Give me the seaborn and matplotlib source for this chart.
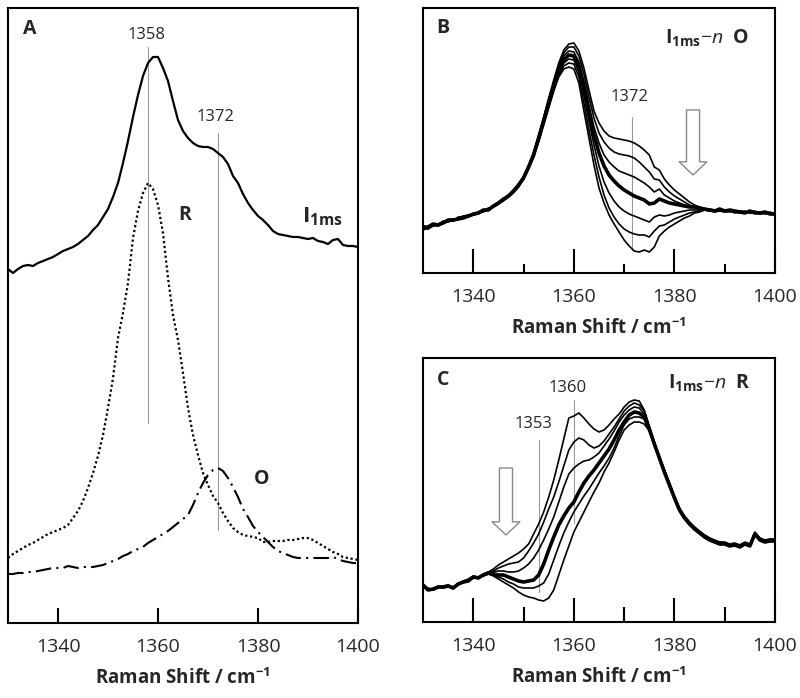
import matplotlib
matplotlib.use("Agg")
import matplotlib.pyplot as plt
import seaborn as sns
import pandas as pd

sns.set_style("white")
plt.rcParams["font.family"] = ["Open Sans", "DejaVu Sans"]
plt.rcParams["mathtext.fontset"] = "custom"
plt.rcParams["mathtext.rm"] = "Open Sans"
plt.rcParams["mathtext.bf"] = "Open Sans:bold"
plt.rcParams["mathtext.it"] = "Open Sans:italic"

# ---------------- data ----------------
shift = list(range(1330, 1401))
xticks_major = [1340, 1360, 1380, 1400]
xticks_minor = [1350, 1370, 1390]
xlabel = "Raman Shift / cm$^{\\mathbf{-1}}$"

# Panel A
a_i1ms = [354, 350, 354, 357, 358, 357, 360, 362, 364, 366, 369, 372, 374, 376, 379, 383, 387, 393, 398, 406,
          414, 426, 440, 460, 482, 506, 528, 547, 560, 566, 566, 555, 542, 522, 503, 492, 485, 480, 477, 476,
          476, 474, 470, 466, 459, 447, 440, 429, 420, 413, 407, 403, 398, 392, 389, 388, 387, 386, 386, 385,
          384, 385, 382, 381, 379, 383, 384, 378, 377, 377, 376]
a_r = [65, 69, 72, 75, 78, 80, 83, 86, 89, 91, 93, 95, 98, 105, 112, 122, 135, 150, 167, 188,
       215, 245, 285, 310, 340, 385, 412, 430, 440, 434, 418, 390, 345, 308, 283, 250, 215, 188, 168, 150,
       138, 127, 120, 110, 102, 95, 91, 88, 87, 86, 85, 81, 81, 82, 82, 82, 83, 83, 84, 85,
       85, 83, 80, 77, 74, 71, 69, 66, 65, 64, 63]
a_o = [49, 49, 50, 50, 51, 51, 52, 53, 54, 55, 55, 55, 57, 56, 55, 56, 56, 56, 57, 58,
       60, 62, 64, 67, 69, 72, 74, 76, 80, 83, 86, 89, 92, 96, 100, 104, 108, 118, 130, 140,
       148, 153, 155, 152, 145, 136, 126, 114, 106, 97, 91, 86, 81, 76, 72, 70, 68, 66, 65, 65,
       65, 65, 65, 65, 65, 66, 64, 62, 61, 60, 60]

# Panel B: I1ms - n O  (top shoulder -> bottom)
b0 = [47, 45, 49, 47, 51, 52, 52, 55, 56, 57, 59, 60, 62, 64, 67, 70, 74, 78, 83, 89,
      97, 108, 121, 138, 156, 175, 193, 210, 223, 229,
      230, 222, 205, 183, 162, 150, 142, 137, 135, 134, 133, 132, 130, 127, 123, 118, 106, 103, 94, 88, 83, 79, 75, 71, 68, 66, 64,
      63, 62, 63, 62, 63, 61, 62, 60, 62, 61, 60, 61, 60, 59]
b1 = [45, 46, 48, 49, 50, 53, 54, 54, 55, 56, 58, 61, 63, 64, 66, 70, 73, 77, 82, 88,
      96, 107, 120, 137, 155, 173, 191, 207, 220, 226,
      226, 217, 199, 176, 155, 140, 131, 125, 121, 119, 118, 117, 115, 111, 106, 101, 94, 93, 86, 81, 77, 74, 71, 68, 66, 65, 64,
      64, 63, 62, 63, 62, 62, 61, 61, 61, 62, 60, 60, 61, 59]
b2 = [48, 44, 47, 48, 52, 51, 53, 55, 57, 58, 58, 59, 62, 65, 66, 69, 73, 77, 82, 88,
      96, 106, 119, 136, 154, 172, 189, 205, 217, 222,
      221, 211, 192, 168, 146, 130, 118, 111, 106, 102, 100, 98, 96, 93, 90, 86, 81, 84, 78, 75, 72, 70, 68, 67, 65, 64, 64,
      62, 63, 62, 61, 62, 61, 62, 61, 60, 61, 61, 60, 60, 60]
b3 = [44, 46, 49, 48, 50, 53, 53, 54, 55, 57, 59, 60, 63, 63, 67, 70, 74, 77, 82, 88,
      95, 106, 118, 135, 152, 170, 187, 202, 213, 218,
      217, 206, 185, 160, 138, 120, 107, 98, 92, 87, 83, 80, 77, 75, 73, 69, 70, 74, 72, 70, 69, 68, 67, 66, 66, 65, 64,
      63, 62, 64, 62, 63, 62, 61, 60, 62, 60, 60, 61, 59, 59]
b4 = [46, 47, 47, 49, 51, 52, 52, 56, 56, 56, 58, 61, 62, 64, 66, 69, 73, 77, 81, 87,
      95, 105, 118, 134, 151, 168, 185, 200, 210, 214,
      213, 201, 178, 152, 128, 107, 91, 80, 72, 66, 62, 59, 57, 55, 53, 51, 56, 58, 57, 58, 60, 61, 62, 63, 63, 63, 63,
      62, 62, 63, 62, 61, 62, 62, 61, 61, 60, 61, 60, 60, 58]
b5 = [45, 44, 48, 47, 50, 51, 54, 54, 57, 57, 59, 60, 61, 64, 67, 70, 73, 76, 81, 86,
      94, 105, 117, 133, 150, 167, 183, 198, 207, 210,
      209, 196, 170, 143, 118, 96, 78, 65, 56, 49, 44, 41, 39, 38, 38, 36, 42, 47, 48, 51, 54, 56, 58, 60, 61, 62, 63,
      63, 61, 62, 63, 62, 60, 61, 62, 60, 61, 60, 59, 60, 59]
b6 = [47, 46, 47, 49, 51, 53, 52, 55, 55, 58, 58, 60, 62, 63, 66, 69, 72, 76, 80, 86,
      94, 104, 116, 131, 148, 165, 182, 196, 204, 206,
      204, 190, 162, 135, 108, 85, 70, 58, 49, 41, 33, 27, 22, 21, 23, 21, 26, 37, 42, 46, 49, 52, 55, 57, 60, 61, 63,
      62, 62, 62, 62, 63, 61, 60, 61, 61, 61, 59, 60, 60, 59]

# Panel C: I1ms - n R  (top -> bottom)
c0 = [37, 34, 32, 35, 36, 37, 35, 38, 41, 43, 46, 45, 48, 50,
      53, 57, 60, 63, 66, 69, 73, 78, 88, 98, 110, 125, 142, 162, 183, 204, 206, 209, 204, 198, 193, 190, 192, 197, 203, 208, 215, 220, 222, 221,
      212, 196, 180, 166, 152, 139, 126, 114, 106, 100, 95, 91, 87, 84, 82, 80, 80, 78, 79, 77, 80, 78, 90, 84, 82, 83, 83]
c1 = [36, 33, 33, 34, 35, 36, 34, 39, 40, 42, 45, 44, 47, 50,
      51, 54, 56, 58, 59, 60, 64, 71, 79, 88, 100, 113, 125, 140, 156, 172, 180, 184, 182, 177, 174, 176, 181, 188, 195, 203, 211, 216, 219, 217,
      211, 195, 179, 165, 151, 138, 125, 113, 105, 99, 94, 90, 86, 83, 81, 79, 79, 77, 78, 76, 79, 77, 89, 83, 81, 82, 82]
c2 = [38, 33, 32, 36, 34, 35, 35, 38, 40, 42, 44, 45, 47, 49,
      50, 51, 51, 50, 50, 51, 54, 58, 64, 72, 82, 93, 105, 120, 135, 148, 154, 158, 161, 162, 165, 169, 176, 183, 191, 200, 207, 212, 215, 214,
      208, 194, 180, 165, 152, 139, 126, 114, 106, 100, 95, 90, 87, 84, 81, 80, 79, 78, 78, 77, 79, 78, 88, 84, 81, 83, 82]
c3 = [37, 32, 33, 35, 35, 36, 34, 38, 40, 41, 45, 44, 47, 49,
      48, 47, 47, 45, 43, 41, 40, 41, 42, 47, 58, 72, 85, 97, 106, 114, 120, 130, 139, 146, 152, 159, 166, 173, 182, 192, 200, 207, 210, 209,
      205, 193, 178, 164, 150, 137, 124, 112, 104, 98, 93, 89, 85, 82, 80, 78, 78, 76, 77, 75, 78, 76, 88, 82, 80, 81, 81]
c4 = [36, 33, 32, 34, 36, 36, 33, 37, 40, 42, 44, 45, 46, 48,
      47, 45, 43, 40, 38, 35, 34, 34, 34, 36, 39, 48, 62, 76, 89, 100, 110, 118, 126, 133, 141, 149, 156, 164, 174, 186, 197, 203, 205, 205,
      203, 192, 178, 165, 151, 138, 125, 113, 105, 99, 94, 90, 86, 83, 81, 79, 79, 77, 78, 76, 79, 77, 89, 83, 81, 82, 82]
c5 = [37, 32, 32, 35, 35, 35, 34, 38, 39, 42, 45, 44, 47, 48,
      46, 43, 40, 37, 34, 30, 27, 25, 24, 22, 21, 24, 32, 47, 62, 76, 90, 100, 110, 120, 130, 139, 150, 159, 170, 182, 192, 197, 200, 200,
      198, 191, 177, 163, 150, 137, 124, 112, 104, 98, 93, 89, 85, 83, 80, 79, 78, 77, 77, 76, 78, 76, 87, 82, 80, 81, 81]

# ---------------- figure ----------------
fig = plt.figure(figsize=(8, 6.98), dpi=100)
axA = fig.add_axes([8 / 800, 1 - 623 / 698, 350 / 800, 615 / 698])
axB = fig.add_axes([423 / 800, 1 - 273 / 698, 352 / 800, 265 / 698])
axC = fig.add_axes([423 / 800, 1 - 622 / 698, 352 / 800, 264 / 698])

GRAY = "#9a9a9a"


def style_axis(ax, ymax, major_len, minor_len=None):
    ax.set_xlim(1330, 1400)
    ax.set_ylim(0, ymax)
    ax.set_yticks([])
    ax.set_ylabel("")
    ax.set_xticks(xticks_major)
    ax.set_xticklabels([str(t) for t in xticks_major])
    ax.tick_params(axis="x", which="major", direction="in", length=major_len, width=1.5,
                   labelsize=14, pad=10.5, color="black", bottom=True)
    if minor_len is not None:
        ax.set_xticks(xticks_minor, minor=True)
        ax.tick_params(axis="x", which="minor", direction="in", length=minor_len, width=1.5,
                       color="black", bottom=True)
    for s in ax.spines.values():
        s.set_color("black")
        s.set_linewidth(1.5)
        s.set_visible(True)
    ax.set_xlabel(xlabel, fontsize=13.5, fontweight="bold", labelpad=9)


def line(ax, y, lw, ls="-"):
    df = pd.DataFrame({"shift": shift, "val": y})
    sns.lineplot(data=df, x="shift", y="val", ax=ax, color="black", linewidth=lw,
                 linestyle=ls, estimator=None, sort=False, clip_on=True)


def hollow_arrow(ax, x, y0, y1):
    ax.annotate("", xy=(x, y1), xytext=(x, y0),
                arrowprops=dict(arrowstyle="simple,head_length=9.5,head_width=20,tail_width=9.4",
                                mutation_scale=1, fc="white", ec="#8a8a8a", lw=1.0,
                                shrinkA=0, shrinkB=0))


# ---- Panel A ----
axA.plot([1358, 1358], [200, 576], color=GRAY, lw=0.8)
axA.plot([1372, 1372], [93, 490], color=GRAY, lw=0.8)
line(axA, a_i1ms, 1.6)
line(axA, a_r, 1.6, (0, (1, 1.2)))
line(axA, a_o, 1.5, (0, (7.5, 2.5, 1, 2.5)))
style_axis(axA, 615, 10.8)
axA.text(0.063, 0.966, "A", transform=axA.transAxes, fontsize=14, fontweight="bold",
         ha="center", va="center")
axA.text(1357.8, 588, "1358", fontsize=12, ha="center", va="center")
axA.text(1371.4, 506, "1372", fontsize=12, ha="center", va="center")
axA.text(1365.4, 408, "R", fontsize=14, fontweight="bold", ha="center", va="center")
axA.text(1380.8, 144, "O", fontsize=14, fontweight="bold", ha="center", va="center")
axA.text(1388.8, 401, r"$\mathbf{I}_{\mathbf{1ms}}$", fontsize=16, ha="left", va="baseline")

# ---- Panel B ----
axB.plot([1371.5, 1371.5], [23, 156], color=GRAY, lw=0.8)
for y in [b0, b1, b2, b4, b5, b6]:
    line(axB, y, 1.2)
line(axB, b3, 2.6)
style_axis(axB, 265, 17, 6.5)
hollow_arrow(axB, 1383.7, 163, 98)
axB.text(0.057, 0.925, "B", transform=axB.transAxes, fontsize=14, fontweight="bold",
         ha="center", va="center")
axB.text(1371, 176, "1372", fontsize=12, ha="center", va="center")
axB.text(0.925, 0.89, r"$\mathbf{I}_{\mathbf{1ms}}$" + "\u2212" + r"$\mathit{n}$  " + r"$\mathbf{O}$",
         transform=axB.transAxes, fontsize=14, ha="right", va="center")

# ---- Panel C ----
axC.plot([1360.1, 1360.1], [99, 222], color=GRAY, lw=0.8)
axC.plot([1353, 1353], [30, 182], color=GRAY, lw=0.8)
for y in [c0, c1, c2, c4, c5]:
    line(axC, y, 1.2)
line(axC, c3, 2.6)
style_axis(axC, 264, 17, 10.5)
hollow_arrow(axC, 1346.5, 154, 87)
axC.text(0.057, 0.917, "C", transform=axC.transAxes, fontsize=14, fontweight="bold",
         ha="center", va="center")
axC.text(1358.8, 234, "1360", fontsize=12, ha="center", va="center")
axC.text(1352, 198.5, "1353", fontsize=12, ha="center", va="center")
axC.text(0.929, 0.909, r"$\mathbf{I}_{\mathbf{1ms}}$" + "\u2212" + r"$\mathit{n}$  " + r"$\mathbf{R}$",
         transform=axC.transAxes, fontsize=14, ha="right", va="center")

fig.savefig("out.png", dpi=100)
